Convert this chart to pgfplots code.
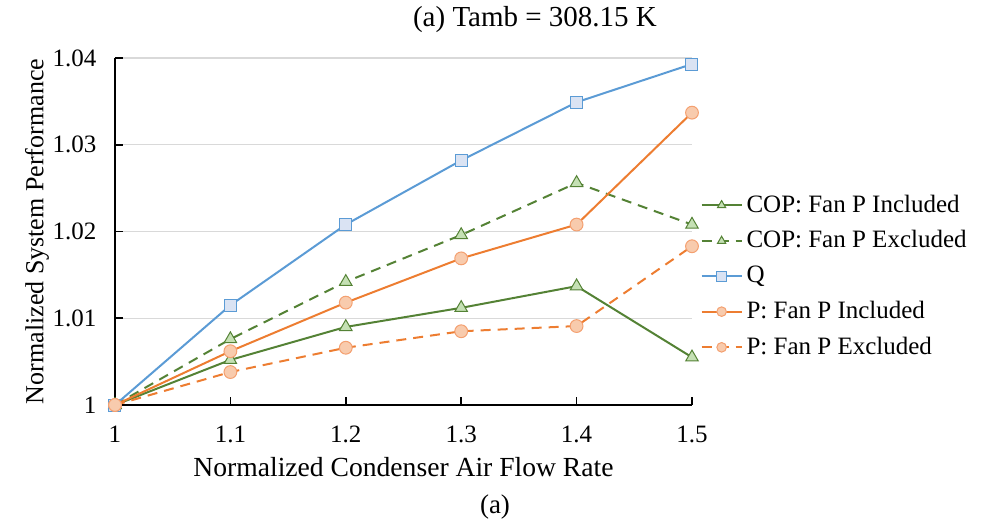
\documentclass[border=0pt]{standalone}
\usepackage{pgfplots}
\pgfplotsset{compat=1.18}
\usepackage{fontspec}
\setmainfont{Liberation Serif}
\definecolor{gline}{HTML}{548235}
\definecolor{gfill}{HTML}{C5E0B4}
\definecolor{bline}{HTML}{5B9BD5}
\definecolor{bfill}{HTML}{DAE3F3}
\definecolor{oline}{HTML}{ED7D31}
\definecolor{ofill}{HTML}{F8CBAD}
\definecolor{omark}{HTML}{F4A070}
\definecolor{gridc}{HTML}{D9D9D9}
\begin{document}
\fontsize{12.5pt}{15pt}\selectfont
\begin{tikzpicture}
\path[use as bounding box] (-57.5pt,-57.5pt) rectangle (433pt,202.5pt);
\begin{axis}[
  at={(0,0)}, anchor=south west,
  scale only axis, width=288.5pt, height=173.5pt,
  xmin=1, xmax=1.5, ymin=1, ymax=1.04,
  xtick={1,1.1,1.2,1.3,1.4,1.5},
  xticklabels={1,1.1,1.2,1.3,1.4,1.5},
  ytick={1,1.01,1.02,1.03,1.04},
  yticklabels={1,1.01,1.02,1.03,1.04},
  axis x line*=bottom, axis y line*=left,
  axis line style={-, black, line width=0.8pt},
  tick align=inside, major tick length=4pt,
  tick style={black, line width=0.8pt},
  ymajorgrids, grid style={gridc, line width=0.6pt},
  tick label style={font=\fontsize{12.5pt}{15pt}\selectfont},
  yticklabel style={xshift=-5pt},
  xticklabel style={yshift=-6pt},
  /pgf/number format/assume math mode=true,
  xlabel={Normalized Condenser Air Flow Rate},
  ylabel={Normalized System Performance},
  xlabel style={at={(axis description cs:0.5,0)}, anchor=center, yshift=-31pt, font=\fontsize{13.8pt}{15pt}\selectfont},
  ylabel style={at={(axis description cs:0,0.5)}, anchor=center, yshift=39pt, font=\fontsize{13pt}{15pt}\selectfont},
  clip=false,
  legend style={at={(rel axis cs:1.004,0.63)}, anchor=north west, draw=none, fill=none,
    font=\fontsize{12.5pt}{15pt}\selectfont, row sep=3.3pt,
    /tikz/every even column/.append style={column sep=0pt}},
  legend cell align=left,
  legend image code/.code={
    \draw[#1] (0cm,0cm) -- (0.7cm,0cm);
    \draw[#1, solid, mark size=2.4pt] plot coordinates {(0.35cm,0cm)};
  },
]
\addplot[gline, line width=1pt, mark=triangle*, mark size=3.6pt,
  mark options={fill=gfill, draw=gline, line width=0.5pt, solid}]
  coordinates {(1,1) (1.1,1.0052) (1.2,1.0090) (1.3,1.0112) (1.4,1.0137) (1.5,1.0055)};
\addlegendentry{COP: Fan P Included}
\addplot[gline, line width=1pt, dash pattern=on 5pt off 3.5pt, mark=triangle*, mark size=3.6pt,
  mark options={fill=gfill, draw=gline, line width=0.5pt, solid}]
  coordinates {(1,1) (1.1,1.0076) (1.2,1.0142) (1.3,1.0196) (1.4,1.0256) (1.5,1.0208)};
\addlegendentry{COP: Fan P Excluded}
\addplot[bline, line width=1pt, mark=square*, mark size=3pt,
  mark options={fill=bfill, draw=bline, line width=0.5pt, solid}]
  coordinates {(1,1) (1.1,1.0115) (1.2,1.0208) (1.3,1.0282) (1.4,1.0349) (1.5,1.0393)};
\addlegendentry{Q}
\addplot[oline, line width=1pt, mark=*, mark size=3.2pt,
  mark options={fill=ofill, draw=omark, line width=0.5pt, solid}]
  coordinates {(1,1) (1.1,1.0062) (1.2,1.0118) (1.3,1.0169) (1.4,1.0208) (1.5,1.0337)};
\addlegendentry{P: Fan P Included}
\addplot[oline, line width=1pt, dash pattern=on 5pt off 3.5pt, mark=*, mark size=3.2pt,
  mark options={fill=ofill, draw=omark, line width=0.5pt, solid}]
  coordinates {(1,1) (1.1,1.0038) (1.2,1.0066) (1.3,1.0085) (1.4,1.0091) (1.5,1.0183)};
\addlegendentry{P: Fan P Excluded}
\end{axis}
\node[font=\fontsize{14.5pt}{16pt}\selectfont] at (210pt,192.5pt) {(a) Tamb = 308.15 K};
\node[font=\fontsize{13.5pt}{15pt}\selectfont] at (190pt,-51pt) {(a)};
\end{tikzpicture}
\end{document}
